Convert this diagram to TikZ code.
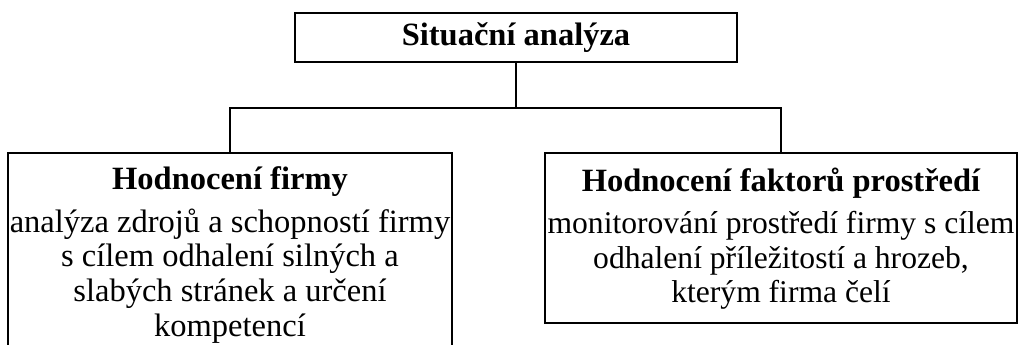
\documentclass[tikz,border=0pt]{standalone}
\usepackage{fontspec}
\setmainfont{Liberation Serif}
\begin{document}
\begin{tikzpicture}[x=1pt,y=-1pt,
  box/.style={draw,line width=1.8pt,rectangle,inner sep=0},
  head/.style={font=\fontsize{32.5}{36}\selectfont\bfseries,inner sep=0},
  body/.style={font=\fontsize{32.5}{34.7}\selectfont,align=center,inner sep=0},
  rbodyfont/.style={font=\fontsize{31.6}{34.7}\selectfont},
  conn/.style={line width=1.8pt}]
\useasboundingbox (0,0) rectangle (1019,345);
\clip (0,0) rectangle (1019,345);
% boxes
\node[box,head,minimum width=442pt,minimum height=49pt] (top) at (516,37.5) {Situační analýza};
\node[box,minimum width=444pt,minimum height=247pt] (left) at (230,276.5) {};
\node[box,minimum width=472pt,minimum height=170pt] (right) at (781,238) {};
% texts
\node[head,anchor=base] (lhead) at (left.north |- 0,189) {Hodnocení firmy};
\node[body,anchor=north] (lbody) at (left.north |- 0,208.5) {analýza zdrojů a schopností firmy\\s cílem odhalení silných a\\slabých stránek a určení\\kompetencí};
\node[head,anchor=base] (rhead) at (right.north |- 0,191) {Hodnocení faktorů prostředí};
\node[body,rbodyfont,anchor=north] (rbody) at (right.north |- 0,211) {monitorování prostředí firmy s cílem\\odhalení příležitostí a hrozeb,\\kterým firma čelí};
% connectors
\draw[conn] (top.south) -- (top.south |- 0,108) coordinate (j);
\draw[conn] (left.north) |- (j) -| (right.north);
\end{tikzpicture}
\end{document}
